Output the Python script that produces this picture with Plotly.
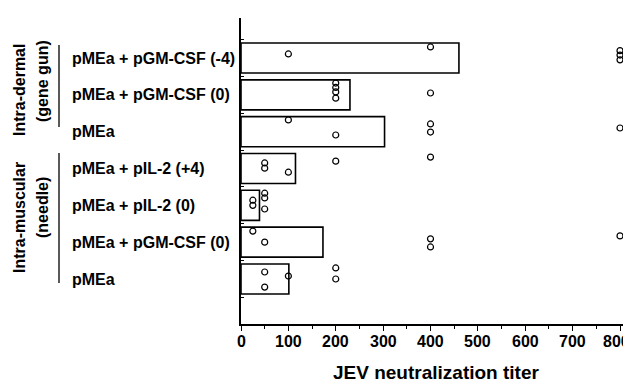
import plotly.graph_objects as go

# Categories, bottom to top
categories = ["pMEa", "pMEa + pGM-CSF (0)", "pMEa + pIL-2 (0)", "pMEa + pIL-2 (+4)",
              "pMEa", "pMEa + pGM-CSF (0)", "pMEa + pGM-CSF (-4)"]
bar_means = [101, 173, 39, 115, 303, 230, 460]

# Individual titers per group (same order) and their vertical jitter within the bar
point_values = [
    [50, 50, 100, 200, 200],
    [25, 50, 400, 400, 800],
    [25, 25, 50, 50, 50],
    [50, 50, 100, 200, 400],
    [100, 200, 400, 400, 800],
    [200, 200, 200, 200, 400],
    [100, 400, 800, 800, 800],
]
point_jitter = [
    [0.19, -0.22, 0.08, 0.30, 0.0],
    [0.30, 0.0, 0.09, -0.13, 0.17],
    [0.14, 0.0, 0.33, 0.20, -0.10],
    [0.15, 0.01, -0.10, 0.20, 0.31],
    [0.32, -0.09, 0.21, -0.01, 0.10],
    [0.32, 0.20, 0.08, -0.09, 0.05],
    [0.11, 0.30, 0.20, 0.08, -0.05],
]

group_labels = [("Intra-dermal", "(gene gun)"), ("Intra-muscular", "(needle)")]
x_ticks = [0, 100, 200, 300, 400, 500, 600, 700, 800]
x_minor = [50, 150, 250, 350, 450, 550, 650, 750]
x_title = "JEV neutralization titer"

# The page body has an 8px margin; work in reference pixels and shift.
OFF = 8
W, H = 631 - OFF, 388 - OFF
# plot area in reference pixels
PL, PR, PT, PB = 241, 623, 18, 324
L, T = PL - OFF, PT - OFF
R = W - (PR - OFF)
B = H - (PB - OFF)
pw, ph = W - L - R, H - T - B
FONT = "Arial, Liberation Sans, Helvetica, sans-serif"

def px(xpix):
    return (xpix - PL) / pw

def py(ypix):
    return (PB - ypix) / ph

ypos = list(range(len(categories)))

fig = go.Figure()
fig.add_trace(go.Bar(
    x=bar_means, y=ypos, orientation="h", width=0.815,
    marker=dict(color="white", line=dict(color="black", width=1.6)),
    showlegend=False, hoverinfo="skip",
))

px_vals, py_vals = [], []
for i, (vals, jit) in enumerate(zip(point_values, point_jitter)):
    for v, j in zip(vals, jit):
        px_vals.append(v)
        py_vals.append(i + j)
fig.add_trace(go.Scatter(
    x=px_vals, y=py_vals, mode="markers", cliponaxis=False,
    marker=dict(symbol="circle-open", size=6, color="black", line=dict(width=1.2)),
    showlegend=False,
))

bold16 = dict(family=FONT, size=16, color="black", weight="bold")

annotations = []
for i, lab in enumerate(categories):
    annotations.append(dict(
        x=px(70), xref="paper", y=i, yref="y", text=lab, showarrow=False,
        xanchor="left", yanchor="middle", font=bold16,
    ))

# x tick labels as annotations (so the last one is not dropped at the edge)
for t in x_ticks:
    annotations.append(dict(
        x=t, xref="x", y=py(341), yref="paper", text=str(t), showarrow=False,
        xanchor="center", yanchor="middle", font=bold16,
        xshift=-4 if t == x_ticks[-1] else 0,
    ))

# Group labels (rotated) and brackets
group_geo = [
    dict(main_y=90, sub_y=81, line=(45, 127)),
    dict(main_y=218, sub_y=208, line=(153, 283)),
]
for (main, sub), g in zip(group_labels, group_geo):
    annotations.append(dict(x=px(19), xref="paper", y=py(g["main_y"]), yref="paper",
                            text=main, textangle=-90, showarrow=False,
                            xanchor="center", yanchor="middle", font=bold16))
    annotations.append(dict(x=px(42), xref="paper", y=py(g["sub_y"]), yref="paper",
                            text=sub, textangle=-90, showarrow=False,
                            xanchor="center", yanchor="middle", font=bold16))

annotations.append(dict(x=px(436), xref="paper", y=py(373), yref="paper", text=x_title,
                        showarrow=False, xanchor="center", yanchor="middle",
                        font=dict(family=FONT, size=19, color="black", weight="bold")))

shapes = []
for g in group_geo:
    y0, y1 = g["line"]
    shapes.append(dict(type="line", xref="paper", yref="paper",
                       x0=px(59), x1=px(59), y0=py(y0), y1=py(y1),
                       line=dict(color="black", width=1.3)))

x_max = 800 * (PR - PL) / (620 - PL)
y_lo = -(PB - 279) / 36.83
y_hi = 6 + (58 - PT) / 36.83

fig.update_layout(
    width=W, height=H,
    margin=dict(l=L, r=R, t=T, b=B, pad=0),
    paper_bgcolor="white", plot_bgcolor="white",
    annotations=annotations, shapes=shapes,
    xaxis=dict(
        range=[0, x_max], tickvals=x_ticks, showticklabels=False,
        ticks="outside", ticklen=5, tickwidth=1.3, tickcolor="black",
        minor=dict(tickvals=x_minor, ticks="outside",
                   ticklen=3, tickwidth=1, tickcolor="black"),
        showline=True, linecolor="black", linewidth=1.6,
        showgrid=False, zeroline=False,
    ),
    yaxis=dict(
        range=[y_lo, y_hi], showticklabels=False,
        tickvals=[i + 0.5 for i in range(-1, 7)], ticks="inside", ticklen=3,
        tickcolor="black", tickwidth=1,
        showline=True, linecolor="black", linewidth=1.6,
        showgrid=False, zeroline=False,
    ),
)

fig.write_html("out.html")
